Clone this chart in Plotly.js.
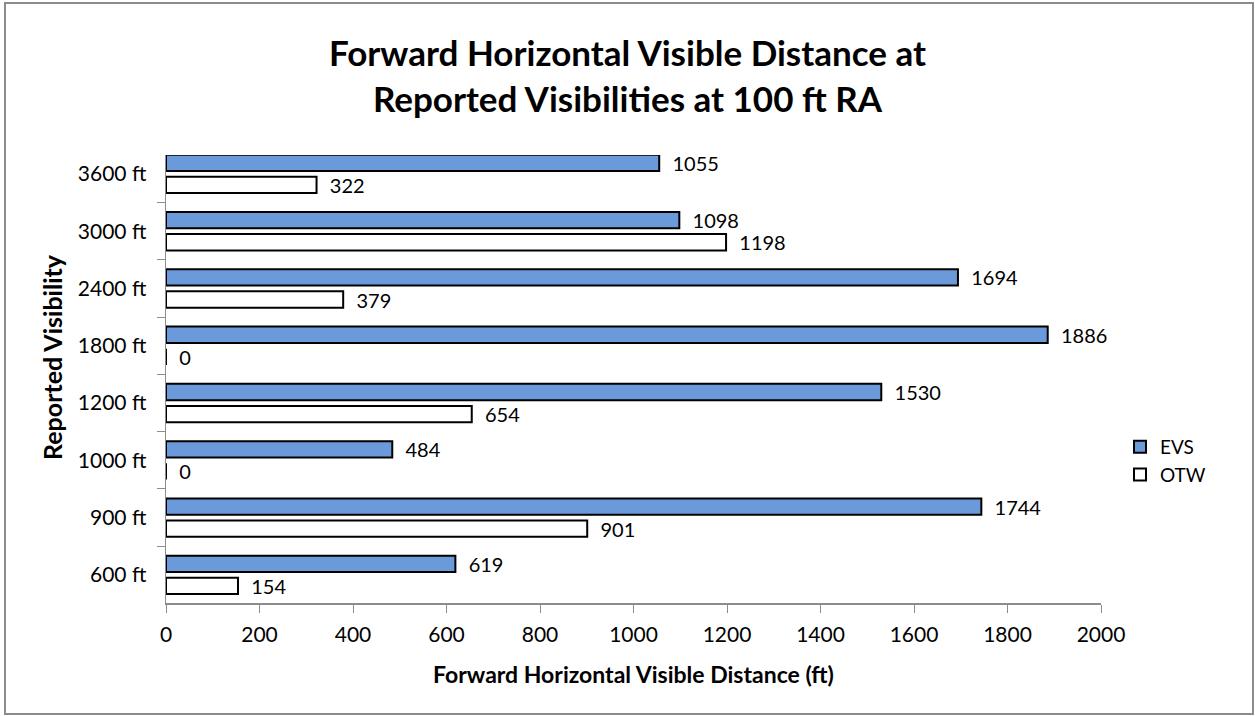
<!DOCTYPE html>
<html>
<head>
<meta charset="utf-8">
<script src="https://cdn.plot.ly/plotly-3.0.1.min.js"></script>
<style>
  html, body { margin: 0; padding: 0; background: #ffffff; }
  #chart { width: 1255px; height: 716px; }
</style>
</head>
<body>
<div id="chart"></div>
<script>
// ---- data ----
const categories = ["600 ft", "900 ft", "1000 ft", "1200 ft", "1800 ft", "2400 ft", "3000 ft", "3600 ft"];
const evsValues = [619, 1744, 484, 1530, 1886, 1694, 1098, 1055];
const otwValues = [154, 901, 0, 654, 0, 379, 1198, 322];
const seriesNames = ["EVS", "OTW"];
const xTickVals = [0, 200, 400, 600, 800, 1000, 1200, 1400, 1600, 1800, 2000];

const W = 1255, H = 716;
const L = 166, R = 1101, T = 155, B = 603;
const FONT = "Lato, 'Open Sans', sans-serif";
const LABEL_TEMPLATE = "\u00a0\u00a0%{x}";

const otw = {
  type: "bar", orientation: "h", name: seriesNames[1],
  y: categories, x: otwValues,
  marker: { color: "#ffffff", line: { color: "#000000", width: 2 } },
  texttemplate: LABEL_TEMPLATE, textposition: "outside", cliponaxis: false,
  constraintext: "none",
  textfont: { family: FONT, size: 20, color: "#000000" },
  legendrank: 2, hoverinfo: "x+y"
};
const evs = {
  type: "bar", orientation: "h", name: seriesNames[0],
  y: categories, x: evsValues,
  marker: { color: "#6a9ad9", line: { color: "#000000", width: 2 } },
  texttemplate: LABEL_TEMPLATE, textposition: "outside", cliponaxis: false,
  constraintext: "none",
  textfont: { family: FONT, size: 20, color: "#000000" },
  legendrank: 1, hoverinfo: "x+y"
};

const plotW = R - L, plotH = B - T;
const layout = {
  width: W, height: H,
  margin: { l: L, r: W - R, t: T, b: H - B, pad: 0 },
  paper_bgcolor: "#ffffff", plot_bgcolor: "#ffffff",
  font: { family: FONT, color: "#000000" },
  barmode: "group", bargap: 0.23, bargroupgap: 0.26,
  title: {
    text: "<b>Forward Horizontal Visible Distance at<br>Reported Visibilities at 100 ft RA</b>",
    font: { family: FONT, size: 35, color: "#000000" },
    x: 0.5, xref: "container", xanchor: "center",
    y: 1 - 66 / H, yref: "container", yanchor: "middle"
  },
  xaxis: {
    range: [0, 2000], tickvals: xTickVals, ticktext: xTickVals.map(String),
    showgrid: false, zeroline: false,
    showline: true, linecolor: "#8c8c8c", linewidth: 1.5,
    ticks: "outside", ticklen: 8, tickcolor: "#8c8c8c",
    ticklabelstandoff: 4,
    tickfont: { family: FONT, size: 21, color: "#000000" },
    title: { text: "<b>Forward Horizontal Visible Distance (ft)</b>", font: { family: FONT, size: 23, color: "#000000" }, standoff: 22 }
  },
  yaxis: {
    type: "category", categoryorder: "array", categoryarray: categories,
    range: [-0.49, 7.33],
    showgrid: false, zeroline: false,
    showline: true, linecolor: "#8c8c8c", linewidth: 1.5,
    ticks: "outside", ticklen: 8, tickcolor: "#8c8c8c", tickson: "boundaries",
    ticklabelstandoff: 14,
    tickfont: { family: FONT, size: 21, color: "#000000" }
  },
  annotations: [{
    text: "<b>Reported Visibility</b>", textangle: -90,
    xref: "paper", yref: "paper",
    x: (52 - L) / plotW, y: (B - 357) / plotH,
    xanchor: "center", yanchor: "middle", showarrow: false,
    font: { family: FONT, size: 25, color: "#000000" }
  }],
  legend: {
    x: (1120 - L) / plotW, xanchor: "left",
    y: (B - 428) / plotH, yanchor: "top",
    font: { family: FONT, size: 19, color: "#000000" },
    bgcolor: "rgba(0,0,0,0)", tracegroupgap: 5, traceorder: "normal",
    itemwidth: 30
  },
  showlegend: true,
  shapes: [{
    type: "rect", xref: "paper", yref: "paper",
    x0: (5 - L) / plotW, x1: (1253 - L) / plotW,
    y0: (B - 714) / plotH, y1: (B - 3) / plotH,
    line: { color: "#8c8c8c", width: 2 }, fillcolor: "rgba(0,0,0,0)", layer: "below"
  }]
};

Plotly.newPlot("chart", [otw, evs], layout, { displayModeBar: false, staticPlot: true });
</script>
</body>
</html>
